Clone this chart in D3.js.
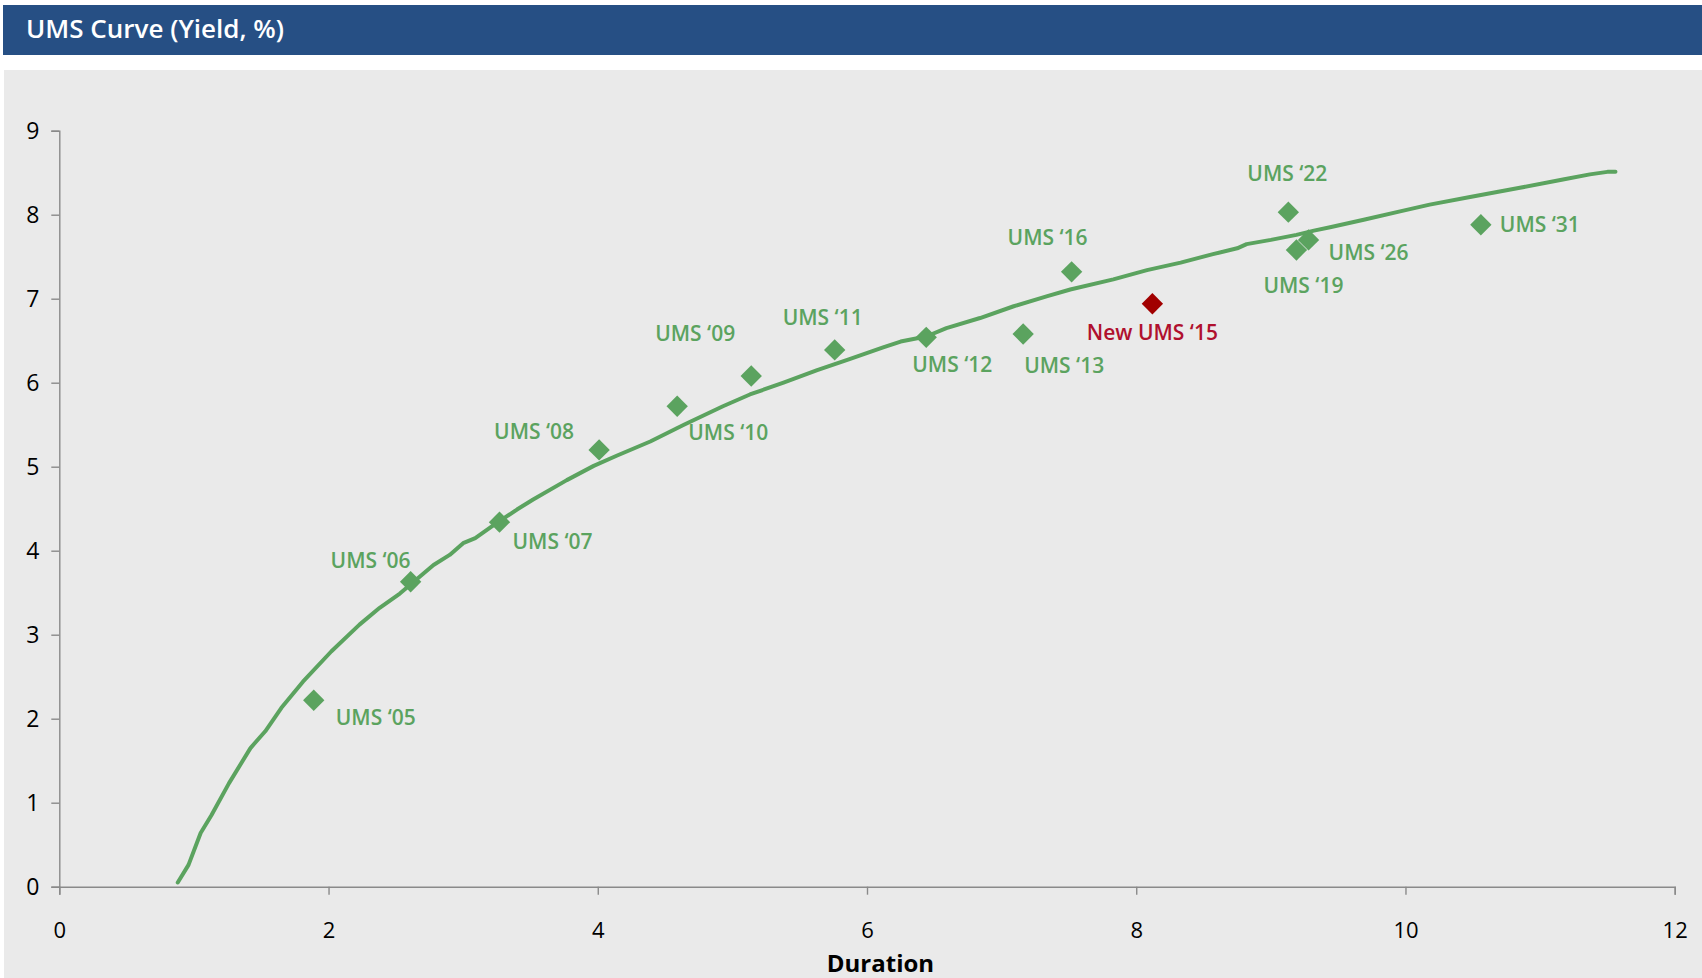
<!DOCTYPE html>
<html>
<head>
<meta charset="utf-8">
<script src="https://cdn.jsdelivr.net/npm/d3@7"></script>
<style>
  html, body { margin: 0; padding: 0; background: #ffffff; }
  svg { display: block; }
  text { font-family: "Open Sans", "Noto Sans", sans-serif; }
</style>
</head>
<body>
<svg id="chart" width="1702" height="978"></svg>
<script>
// Fitted yield curve: [duration, yield %]
const curveDuration = [0.88, 0.96, 1.05, 1.13, 1.26, 1.42, 1.53, 1.65, 1.81, 2.02, 2.23, 2.38, 2.53, 2.78, 2.90, 3.00, 3.09, 3.25, 3.40, 3.52, 3.77, 3.97, 4.14, 4.39, 4.64, 4.93, 5.13, 5.38, 5.63, 5.87, 6.12, 6.25, 6.44, 6.59, 6.84, 7.09, 7.34, 7.51, 7.83, 8.08, 8.33, 8.57, 8.75, 8.82, 9.00, 9.19, 9.32, 9.44, 9.69, 9.96, 10.18, 10.48, 10.85, 11.17, 11.37, 11.50, 11.56];
const curveYield    = [0.05, 0.26, 0.64, 0.85, 1.23, 1.65, 1.85, 2.13, 2.44, 2.80, 3.12, 3.32, 3.49, 3.83, 3.95, 4.09, 4.15, 4.33, 4.49, 4.61, 4.84, 5.01, 5.13, 5.30, 5.50, 5.72, 5.86, 6.00, 6.15, 6.28, 6.42, 6.49, 6.55, 6.65, 6.77, 6.91, 7.03, 7.11, 7.23, 7.34, 7.43, 7.53, 7.60, 7.65, 7.70, 7.76, 7.81, 7.85, 7.94, 8.04, 8.12, 8.21, 8.32, 8.42, 8.48, 8.51, 8.51];

// Individual bonds
const bondNames    = ["UMS \u201805", "UMS \u201806", "UMS \u201807", "UMS \u201808", "UMS \u201809", "UMS \u201810", "UMS \u201811", "UMS \u201812", "UMS \u201813", "UMS \u201816", "New UMS \u201815", "UMS \u201822", "UMS \u201819", "UMS \u201826", "UMS \u201831"];
const bondDuration = [1.89, 2.61, 3.27, 4.01, 4.59, 5.14, 5.76, 6.44, 7.16, 7.52, 8.12, 9.13, 9.19, 9.28, 10.56];
const bondYield    = [2.22, 3.63, 4.34, 5.20, 5.72, 6.08, 6.39, 6.54, 6.58, 7.32, 6.94, 8.03, 7.58, 7.70, 7.88];
const bondIsNew    = [false, false, false, false, false, false, false, false, false, false, true, false, false, false, false];

const xTicks = [0, 2, 4, 6, 8, 10, 12];
const yTicks = [0, 1, 2, 3, 4, 5, 6, 7, 8, 9];

// Label placement around each marker (pixels): [dx, dy, anchor]
const labelPlacement = [
  [22, 17, "start"], [0, -21, "end"], [13, 19, "start"], [-25, -18, "end"],
  [18, -73, "middle"], [-63, 56, "start"], [-12, -33, "middle"], [-14, 27, "start"],
  [1, 31, "start"], [16, -34, "end"], [0, 29, "middle"], [-1, -39, "middle"],
  [7, 35, "middle"], [20, 13, "start"], [19, 0, "start"]
];

const W = 1702, H = 978;
const green = "#5ba35f", red = "#a10000", redText = "#b0102e";

const svg = d3.select("#chart");

// Header band and plot panel
svg.append("rect").attr("x", 3).attr("y", 5).attr("width", W - 3).attr("height", 50).attr("fill", "#264f84");
svg.append("text").attr("x", 26).attr("y", 38).attr("fill", "#ffffff")
  .attr("font-size", 26).attr("font-weight", 600).text("UMS Curve (Yield, %)");
svg.append("rect").attr("x", 4).attr("y", 70).attr("width", W - 4).attr("height", H - 70).attr("fill", "#eaeaea");

const x = d3.scaleLinear().domain([0, 12]).range([59.3, 1674.7]);
const y = d3.scaleLinear().domain([0, 9]).range([886.7, 130.7]);

// Axes
const axisColor = "#8a8a8a";
const xAxis = svg.append("g").attr("transform", `translate(0,${y(0)})`)
  .call(d3.axisBottom(x).tickValues(xTicks).tickSize(8).tickSizeOuter(8).tickPadding(28));
const yAxis = svg.append("g").attr("transform", `translate(${x(0)},0)`)
  .call(d3.axisLeft(y).tickValues(yTicks).tickSize(8).tickSizeOuter(8).tickPadding(12));
[xAxis, yAxis].forEach(g => {
  g.selectAll("path.domain").attr("stroke", axisColor).attr("stroke-width", 1.4);
  g.selectAll(".tick line").attr("stroke", axisColor).attr("stroke-width", 1.4);
  g.selectAll(".tick text").attr("fill", "#000")
    .attr("font-family", "'Open Sans', 'Noto Sans', sans-serif");
});
xAxis.selectAll(".tick text").attr("font-size", 22);
yAxis.selectAll(".tick text").attr("font-size", 23);

svg.append("text").attr("x", x(6.1)).attr("y", 971.5).attr("text-anchor", "middle")
  .attr("font-size", 24).attr("font-weight", 700).attr("fill", "#000").text("Duration");

// Curve
const curvePts = curveDuration.map((d, i) => [d, curveYield[i]]);
svg.append("path").datum(curvePts)
  .attr("fill", "none").attr("stroke", green).attr("stroke-width", 4)
  .attr("stroke-linejoin", "round").attr("stroke-linecap", "round")
  .attr("d", d3.line().x(d => x(d[0])).y(d => y(d[1])));

// Bond markers
const bonds = bondNames.map((n, i) => ({ name: n, dur: bondDuration[i], yld: bondYield[i], isNew: bondIsNew[i], place: labelPlacement[i] }));
const diamond = d3.symbol().type(d3.symbolSquare).size(228);
svg.append("g").selectAll("path").data(bonds).join("path")
  .attr("d", diamond)
  .attr("transform", d => `translate(${x(d.dur)},${y(d.yld)}) rotate(45)`)
  .attr("fill", d => d.isNew ? red : green);

// Bond labels
svg.append("g").selectAll("text").data(bonds).join("text")
  .attr("x", d => x(d.dur) + d.place[0])
  .attr("y", d => y(d.yld) + d.place[1])
  .attr("dy", "0.36em")
  .attr("text-anchor", d => d.place[2])
  .attr("font-size", 21).attr("font-weight", 600)
  .attr("fill", d => d.isNew ? redText : green)
  .text(d => d.name);
</script>
</body>
</html>
